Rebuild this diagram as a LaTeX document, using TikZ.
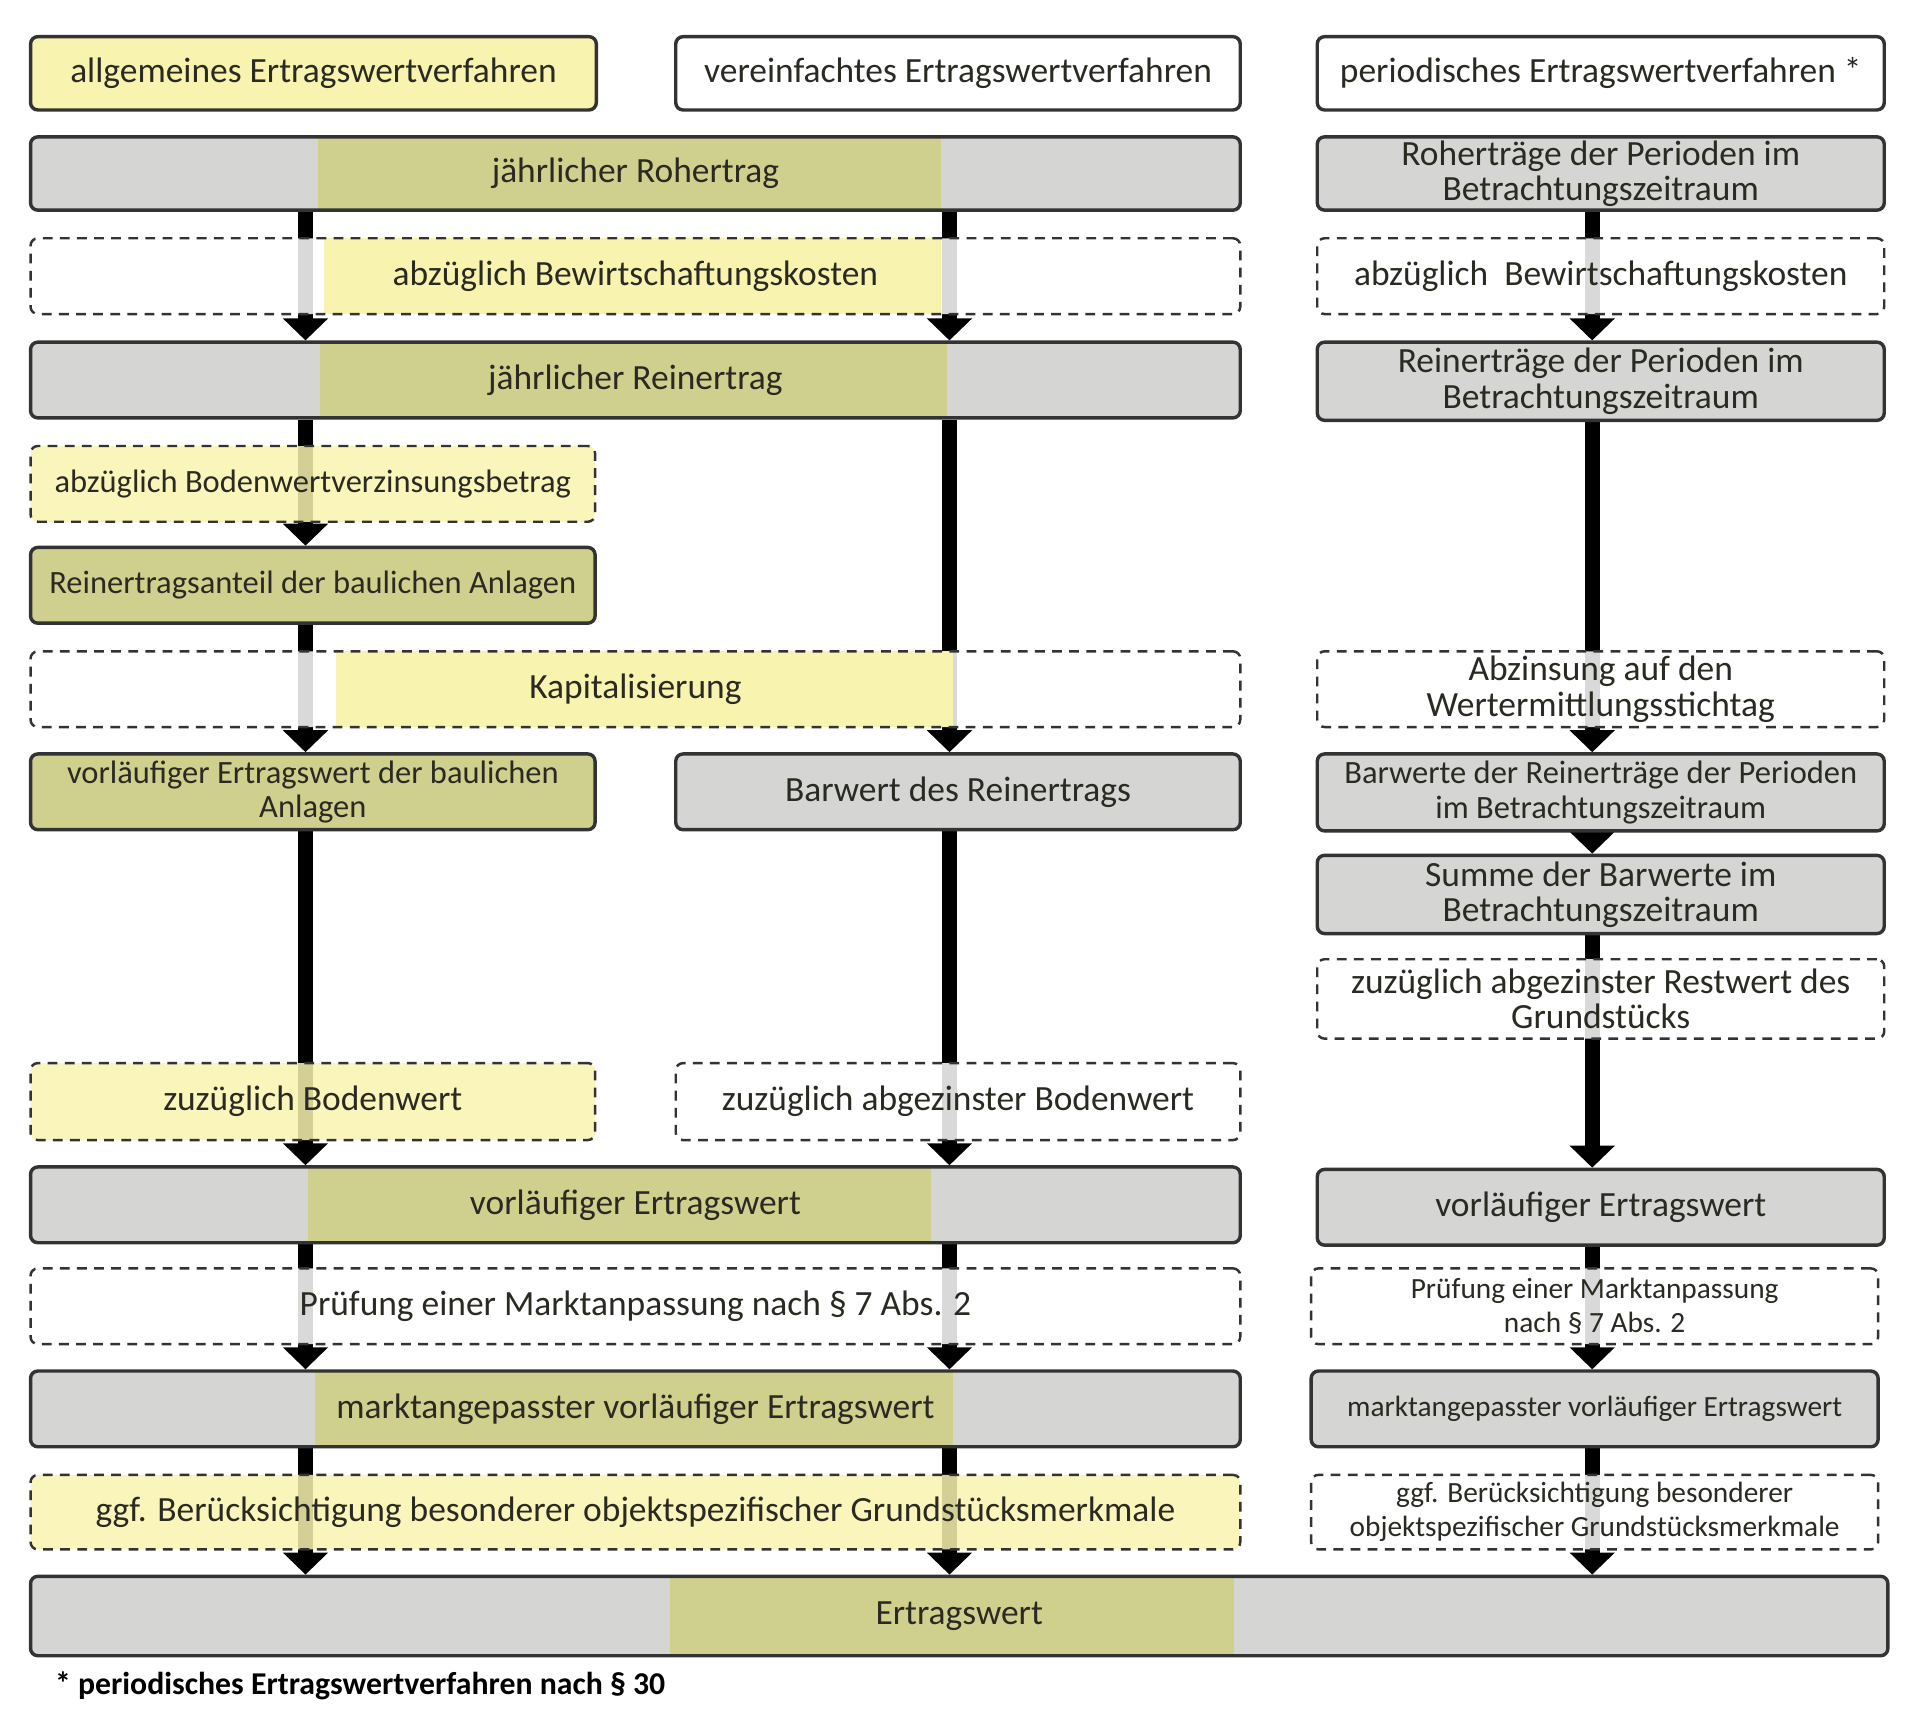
\documentclass[tikz,border=0pt]{standalone}
\usepackage{fontspec}
\setmainfont{Carlito}
\usetikzlibrary{arrows.meta,backgrounds}
\definecolor{grayc}{HTML}{D5D5D3}
\definecolor{oliv}{HTML}{CFD08E}
\definecolor{yel}{HTML}{F8F4B0}
\definecolor{txt}{HTML}{2A2A22}
\tikzset{
 box/.style={draw=black!80,rounded corners=3pt,line width=1.4pt,inner sep=0pt,align=center,text=txt,font=\fontsize{14.5}{14.5}\selectfont},
 S/.style={fill=grayc},
 O/.style={fill=oliv},
 Y/.style={fill=yel},
 W/.style={fill=white},
 D/.style={dashed,line width=1pt,dash pattern=on 4pt off 3pt,fill opacity=0.85},
 DY/.style={D,fill=yel},
 sm/.style={font=\fontsize{12}{14}\selectfont},
 md/.style={font=\fontsize{13.3}{14}\selectfont},
 arr/.style={line width=6pt,black,-{Triangle[width=18pt,length=9pt]}},
}
\newcommand\bx[8]{%
 \fill[#6,rounded corners=3pt] (#2,#3) rectangle (#4,#5);
 \foreach \a/\b/\c in {#7}{\fill[\c] (\a,#3) rectangle (\b,#5);}
 \pgfmathsetmacro\ww{(#4-#2)*0.5}\pgfmathsetmacro\hh{(#5-#3)*0.5}
 \node[box,#6,fill=none,fill opacity=1,minimum width=\ww pt,minimum height=\hh pt] (#1) at ({(#2+#4)/2},{(#3+#5)/2}) {#8};}
\begin{document}
\begin{tikzpicture}[x=0.5pt,y=-0.5pt]
\useasboundingbox (0,0) rectangle (1568,1411);
\coordinate (cl) at (250,0);\coordinate (cm) at (777,0);\coordinate (cr) at (1303,0);
% headers
\bx{h1}{25}{30}{488}{90}{Y}{0/0/white}{allgemeines Ertragswertverfahren}
\bx{h2}{553}{30}{1015}{90}{W}{0/0/white}{vereinfachtes Ertragswertverfahren}
\bx{h3}{1078}{30}{1542}{90}{W}{0/0/white}{periodisches Ertragswertverfahren *}
% rows
\bx{roh}{25}{112}{1015}{172}{S}{260/770/oliv}{jährlicher Rohertrag}
\bx{rohR}{1078}{112}{1542}{172}{S}{0/0/white}{Roherträge der Perioden im\\Betrachtungszeitraum}
\bx{bew}{25}{195}{1015}{257}{D,fill=white}{265/770/yel}{abzüglich Bewirtschaftungskosten}
\bx{bewR}{1078}{195}{1542}{257}{D,fill=white}{0/0/white}{abzüglich\ \ Bewirtschaftungskosten}
\bx{rein}{25}{280}{1015}{342}{S}{262/775/oliv}{jährlicher Reinertrag}
\bx{reinR}{1078}{280}{1542}{344}{S}{0/0/white}{Reinerträge der Perioden im\\Betrachtungszeitraum}
\bx{bvz}{25}{365}{487}{427}{DY,md}{0/0/white}{abzüglich Bodenwertverzinsungsbetrag}
\bx{anteil}{25}{448}{487}{510}{O,md}{0/0/white}{Reinertragsanteil der baulichen Anlagen}
\bx{kap}{25}{533}{1015}{595}{D,fill=white}{275/780/yel}{Kapitalisierung}
\bx{abz}{1078}{533}{1542}{595}{D,fill=white}{0/0/white}{Abzinsung auf den\\Wertermittlungsstichtag}
\bx{vbau}{25}{617}{487}{679}{O,md}{0/0/white}{vorläufiger Ertragswert der baulichen\\Anlagen}
\bx{barw}{553}{617}{1015}{679}{S}{0/0/white}{Barwert des Reinertrags}
\bx{barwR}{1078}{617}{1542}{680}{S,md}{0/0/white}{Barwerte der Reinerträge der Perioden\\im Betrachtungszeitraum}
\bx{summe}{1078}{700}{1542}{764}{S}{0/0/white}{Summe der Barwerte im\\Betrachtungszeitraum}
\bx{rest}{1078}{785}{1542}{850}{D,fill=white}{0/0/white}{zuzüglich abgezinster Restwert des\\Grundstücks}
\bx{bw}{25}{870}{487}{933}{DY}{0/0/white}{zuzüglich Bodenwert}
\bx{abw}{553}{870}{1015}{933}{D,fill=white}{0/0/white}{zuzüglich abgezinster Bodenwert}
\bx{vew}{25}{955}{1015}{1017}{S}{252/762/oliv}{vorläufiger Ertragswert}
\bx{vewR}{1078}{957}{1542}{1019}{S}{0/0/white}{vorläufiger Ertragswert}
\bx{pm}{25}{1038}{1015}{1100}{D,fill=white}{0/0/white}{Prüfung einer Marktanpassung nach § 7 Abs. 2}
\bx{pmR}{1073}{1038}{1537}{1100}{D,fill=white,sm}{0/0/white}{Prüfung einer Marktanpassung\\nach § 7 Abs. 2}
\bx{mvew}{25}{1122}{1015}{1184}{S}{258/780/oliv}{marktangepasster vorläufiger Ertragswert}
\bx{mvewR}{1073}{1122}{1537}{1184}{S,sm}{0/0/white}{marktangepasster vorläufiger Ertragswert}
\bx{bog}{25}{1207}{1015}{1268}{DY}{0/0/white}{ggf. Berücksichtigung besonderer objektspezifischer Grundstücksmerkmale}
\bx{bogR}{1073}{1207}{1537}{1268}{D,fill=white,sm}{0/0/white}{ggf. Berücksichtigung besonderer\\objektspezifischer Grundstücksmerkmale}
\bx{ew}{25}{1290}{1545}{1355}{S}{548/1010/oliv}{Ertragswert}
\node[anchor=west,text=black,font=\bfseries\fontsize{13}{15}\selectfont] (fn) at (38,1380) {* periodisches Ertragswertverfahren nach § 30};
\begin{pgfonlayer}{background}
\fill[white] (0,0) rectangle (1568,1411);
\foreach \s/\t in {roh/rein,rein/anteil,anteil/vbau,vbau/vew,vew/mvew,mvew/ew}
 \draw[arr] (\s.south -| cl) -- (\t.north -| cl);
\foreach \s/\t in {roh/rein,rein/barw,barw/vew,vew/mvew,mvew/ew}
 \draw[arr] (\s.south -| cm) -- (\t.north -| cm);
\foreach \s/\t in {rohR/reinR,reinR/barwR,barwR/summe,summe/vewR,vewR/mvewR,mvewR/ew}
 \draw[arr] (\s.south -| cr) -- (\t.north -| cr);
\end{pgfonlayer}
\end{tikzpicture}
\end{document}
